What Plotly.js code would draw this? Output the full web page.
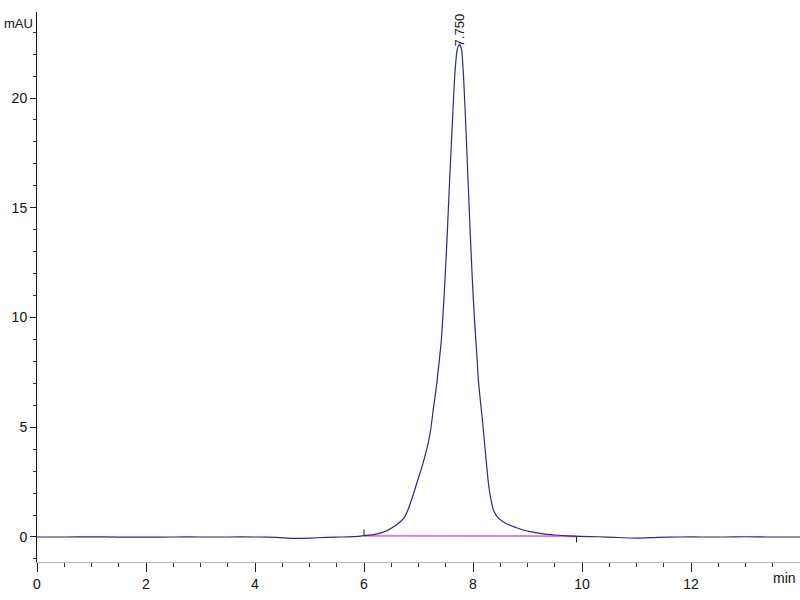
<!DOCTYPE html>
<html>
<head>
<meta charset="utf-8">
<script src="https://cdn.plot.ly/plotly-3.0.1.min.js"></script>
<style>html,body{margin:0;padding:0;background:#fff;}#chart{width:800px;height:600px;}</style>
</head>
<body>
<div id="chart"></div>
<script>
// Chromatogram signal (time in min, absorbance in mAU)
const timeMin = [0, 0.5, 1.0, 1.5, 2.0, 2.5, 3.0, 3.5, 4.0, 4.4, 4.7, 5.0, 5.3, 5.6, 5.9, 6.0, 6.2, 6.4, 6.5, 6.6, 6.72, 6.8, 6.9, 7.0, 7.07, 7.13, 7.18, 7.23, 7.27, 7.31, 7.34, 7.38, 7.42, 7.47, 7.52, 7.57, 7.62, 7.67, 7.71, 7.75, 7.79, 7.83, 7.87, 7.91, 7.95, 7.99, 8.03, 8.07, 8.10, 8.14, 8.17, 8.20, 8.23, 8.26, 8.29, 8.33, 8.37, 8.45, 8.56, 8.69, 8.8, 8.92, 9.1, 9.29, 9.5, 9.73, 9.97, 10.3, 10.6, 11.0, 11.4, 11.8, 12.2, 12.6, 13.0, 13.4, 13.8, 14.0];
const signalMAU = [0.0, 0.0, 0.01, -0.01, -0.01, 0.0, 0.0, 0.0, 0.0, -0.02, -0.06, -0.05, -0.02, 0.0, 0.03, 0.06, 0.12, 0.26, 0.4, 0.56, 0.82, 1.2, 1.9, 2.7, 3.25, 3.8, 4.3, 5.0, 5.8, 6.5, 7.1, 8.0, 9.0, 11.0, 13.4, 16.2, 18.8, 21.2, 22.2, 22.45, 22.2, 20.8, 18.6, 16.2, 13.8, 11.6, 9.8, 8.3, 7.1, 6.1, 5.4, 4.6, 3.8, 3.0, 2.3, 1.7, 1.25, 0.9, 0.68, 0.52, 0.42, 0.32, 0.22, 0.14, 0.09, 0.05, 0.03, 0.01, -0.02, -0.05, -0.02, 0.0, 0.0, 0.0, 0.01, 0.0, 0.0, 0.0];

// Integration baseline
const baselineTime = [6.0, 9.9];
const baselineMAU = [0.06, 0.03];
const baselineStartMark = [0.06, 0.35];
const baselineEndMark = [0.03, -0.25];

// Peak label
const peakTimes = [7.75];
const peakLabels = ["7.750"];
const peakLabelY = [23.1];

const xTickVals = [0, 2, 4, 6, 8, 10, 12];
const yTickVals = [0, 5, 10, 15, 20];

const FONT = "Liberation Sans Narrow, Liberation Sans, Arial, sans-serif";

const traces = [
  {
    x: baselineTime, y: baselineMAU, mode: 'lines', type: 'scatter',
    line: {color: '#e07ee0', width: 2}, hoverinfo: 'skip'
  },
  {
    x: timeMin, y: signalMAU, mode: 'lines', type: 'scatter',
    line: {color: '#2b2b86', width: 1.2, shape: 'spline', smoothing: 0.6}
  },
  {
    x: [baselineTime[0], baselineTime[0]], y: baselineStartMark, mode: 'lines', type: 'scatter',
    line: {color: '#222', width: 1}, hoverinfo: 'skip'
  },
  {
    x: [baselineTime[1], baselineTime[1]], y: baselineEndMark, mode: 'lines', type: 'scatter',
    line: {color: '#222', width: 1}, hoverinfo: 'skip'
  }
];

const annotations = peakTimes.map((t, i) => ({
  x: t, y: peakLabelY[i], xref: 'x', yref: 'y', text: peakLabels[i],
  showarrow: false, textangle: -90, font: {family: FONT, size: 13, color: '#111'}
}));
annotations.push({
  xref: 'paper', yref: 'paper', x: -0.046, y: 0.98, xanchor: 'left', yanchor: 'middle',
  text: 'mAU', showarrow: false, font: {family: FONT, size: 13, color: '#111'}
});
annotations.push({
  xref: 'paper', yref: 'paper', x: 0.997, y: 0, yshift: -16, xanchor: 'right', yanchor: 'middle',
  text: 'min', showarrow: false, font: {family: FONT, size: 14, color: '#111'}
});

const layout = {
  width: 800, height: 600,
  margin: {l: 37, r: 0, t: 12, b: 38},
  paper_bgcolor: '#fff', plot_bgcolor: '#fff',
  showlegend: false,
  font: {family: FONT, size: 14, color: '#111'},
  xaxis: {
    range: [0, 14], showgrid: false, zeroline: false,
    showline: true, linecolor: '#b8b8b8', linewidth: 1,
    tickmode: 'array', tickvals: xTickVals, ticktext: xTickVals.map(String),
    ticks: 'outside', ticklen: 9, tickcolor: '#222', tickwidth: 1,
    minor: {dtick: 0.5, tick0: 0, ticks: 'outside', ticklen: 4, tickcolor: '#333', tickwidth: 1, showgrid: false},
    tickfont: {family: FONT, size: 14, color: '#111'}
  },
  yaxis: {
    range: [-1.14, 23.92], showgrid: false, zeroline: false,
    showline: true, linecolor: '#111', linewidth: 1,
    tickmode: 'array', tickvals: yTickVals, ticktext: yTickVals.map(String),
    ticks: 'outside', ticklen: 6, tickcolor: '#222', tickwidth: 1,
    minor: {dtick: 1, tick0: 0, ticks: 'outside', ticklen: 3, tickcolor: '#333', tickwidth: 1, showgrid: false},
    tickfont: {family: FONT, size: 14, color: '#111'}
  },
  annotations: annotations
};

Plotly.newPlot('chart', traces, layout, {displayModeBar: false, staticPlot: true});
</script>
</body>
</html>
